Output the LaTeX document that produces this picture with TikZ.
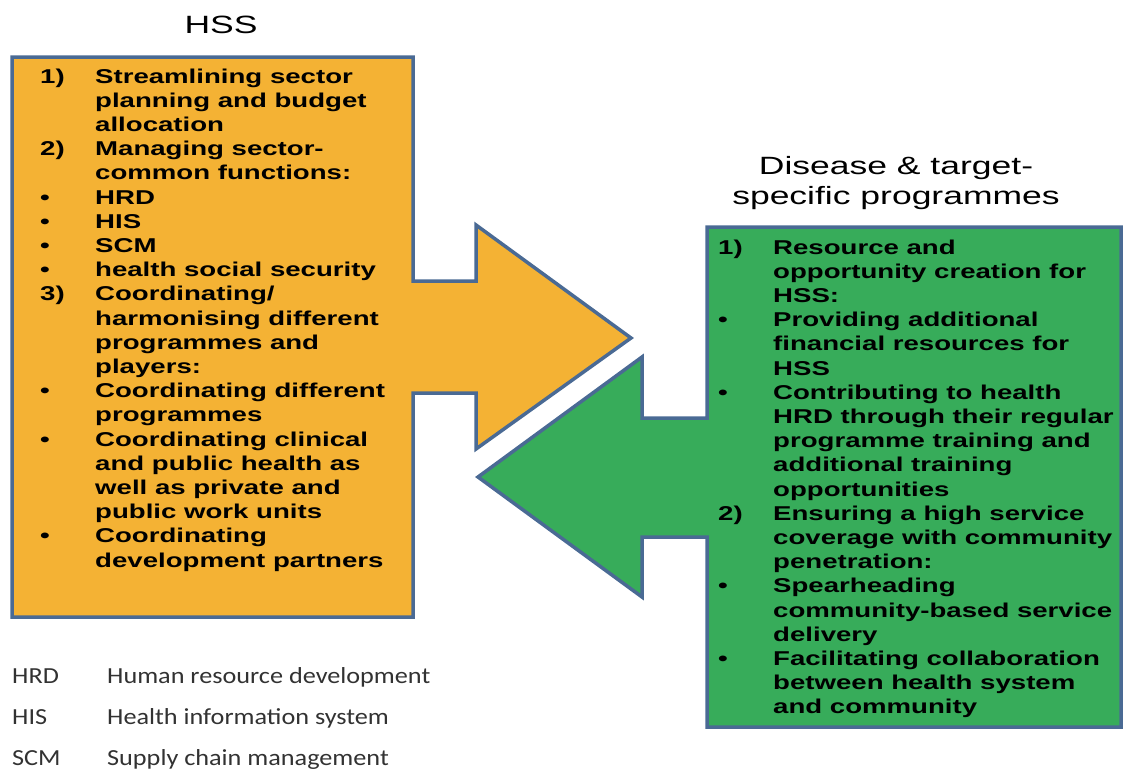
\documentclass[tikz,border=0pt]{standalone}
\usepackage{fontspec}
\usepackage{xcolor}
\usepackage{tikz}
\usetikzlibrary{positioning}
\newfontfamily\listfont{Liberation Sans}[FakeStretch=1.38]
\newfontfamily\headfont{Liberation Sans}[FakeStretch=1.42]
\newfontfamily\keyfont{Carlito}[FakeStretch=1.14]
\definecolor{hssorange}{RGB}{244,178,52}
\definecolor{progreen}{RGB}{55,172,90}
\definecolor{edgeblue}{RGB}{74,106,148}
\definecolor{keygray}{RGB}{50,50,50}

\begin{document}
\begin{tikzpicture}[x=1pt,y=-1pt]
				
				\tikzset{arrow box/.style={
						draw=edgeblue,
						line width=3.5pt,
						line join=miter
					},
					item list/.style={
						anchor=base west,
						inner sep=0pt,
						font=\listfont\bfseries\fontsize{20}{24.2}\selectfont
					},
					head text/.style={
						anchor=base,
						inner sep=0pt,
						font=\headfont\fontsize{25}{30}\selectfont
					}
				}
				\useasboundingbox (0,0) rectangle (1123,771);
				
				\draw[arrow box, fill=hssorange]
					(12,57) -- (413,57) -- (413,281) -- (476,281) -- (476,225) -- (631,338)
					-- (476,449) -- (476,393) -- (413,393) -- (413,617) -- (12,617) -- cycle;
				\draw[arrow box, fill=progreen]
					(707,227) -- (1121,227) -- (1121,727) -- (707,727) -- (707,537) -- (642,537)
					-- (642,597) -- (478,477) -- (642,357) -- (642,418) -- (707,418) -- cycle;
				
				\node[head text] (hsstitle) at (221,33) {HSS};
				\node[head text] (progtitle) at (896,174)
					{\begin{tabular}[t]{@{}c@{}}Disease \& target-\\specific programmes\end{tabular}};
				
				\node[item list] (hsslist) at (40,83)
				{\begin{tabular}[t]{@{}p{55pt}@{}l@{}}
					1) & Streamlining sector\\
					   & planning and budget\\
					   & allocation\\
					2) & Managing sector-\\
					   & common functions:\\
					• & HRD\\
					• & HIS\\
					• & SCM\\
					• & health social security\\
					3) & Coordinating/\\
					   & harmonising different\\
					   & programmes and\\
					   & players:\\
					• & Coordinating different\\
					   & programmes\\
					• & Coordinating clinical\\
					   & and public health as\\
					   & well as private and\\
					   & public work units\\
					• & Coordinating\\
					   & development partners
				\end{tabular}};
				
				\node[item list] (proglist) at (718,254)
				{\begin{tabular}[t]{@{}p{55pt}@{}l@{}}
					1) & Resource and\\
					   & opportunity creation for\\
					   & HSS:\\
					• & Providing additional\\
					   & financial resources for\\
					   & HSS\\
					• & Contributing to health\\
					   & HRD through their regular\\
					   & programme training and\\
					   & additional training\\
					   & opportunities\\
					2) & Ensuring a high service\\
					   & coverage with community\\
					   & penetration:\\
					• & Spearheading\\
					   & community-based service\\
					   & delivery\\
					• & Facilitating collaboration\\
					   & between health system\\
					   & and community
				\end{tabular}};
				
				\node[anchor=base west, inner sep=0pt, text=keygray,
					font=\keyfont\fontsize{23}{41}\selectfont] (abbrevkey) at (12,683)
				{\begin{tabular}[t]{@{}p{95pt}@{}l@{}}
					HRD & Human resource development\\
					HIS & Health information system\\
					SCM & Supply chain management
				\end{tabular}};
				
\end{tikzpicture}
\end{document}
